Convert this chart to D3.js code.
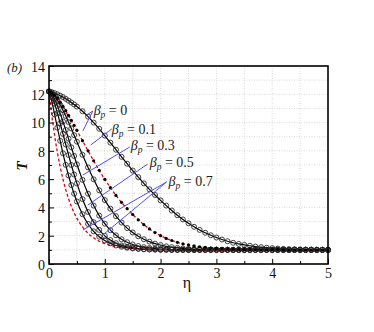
<!DOCTYPE html>
<html><head><meta charset="utf-8">
<script src="https://cdn.jsdelivr.net/npm/d3@7"></script>
<style>body{margin:0;background:#fff}svg{display:block}
svg text{font-family:"Liberation Serif","Times New Roman",serif}</style>
</head><body>
<svg id="chart" width="374" height="332"></svg>
<script>
// ---- data ----
const eta = [0,0.05,0.1,0.15,0.2,0.25,0.3,0.35,0.4,0.45,0.5,
  0.6,0.7,0.8,0.9,1.0,1.1,1.2,1.3,1.4,1.5,1.6,1.7,1.8,1.9,2.0,
  2.1,2.2,2.3,2.4,2.5,2.6,2.7,2.8,2.9,3.0,3.1,3.2,3.3,3.4,3.5,
  3.6,3.7,3.8,3.9,4.0,4.1,4.2,4.3,4.4,4.5,4.6,4.7,4.8,4.9,5.0];

// black lines with open circles
const T_beta0 = [12.2,12.15,12.08,12.0,11.9,11.8,11.68,11.55,11.42,11.28,11.13,
  10.8,10.42,10.0,9.56,9.08,8.58,8.08,7.58,7.09,6.61,6.14,5.70,5.28,4.88,4.50,
  4.13,3.78,3.45,3.15,2.88,2.63,2.41,2.21,2.03,1.87,1.73,1.61,1.50,1.42,1.35,
  1.29,1.23,1.19,1.15,1.12,1.09,1.07,1.05,1.04,1.03,1.02,1.02,1.01,1.01,1.0];
const T_b1 = [12.2,11.49,10.58,9.64,8.71,7.83,7.01,6.26,5.58,4.97,4.42,
  3.52,2.83,2.31,1.93,1.66,1.46,1.31,1.22,1.15,1.10,1.07,1.04,1.03,1.02,1.01,
  1.01,1.0,1.0,1.0,1.0,1.0,1.0,1.0,1.0,1.0,1.0,1.0,1.0,1.0,1.0,
  1.0,1.0,1.0,1.0,1.0,1.0,1.0,1.0,1.0,1.0,1.0,1.0,1.0,1.0,1.0];
const T_b2 = [12.2,11.88,11.34,10.68,9.95,9.20,8.45,7.71,7.00,6.33,5.70,
  4.59,3.68,2.96,2.41,1.99,1.69,1.47,1.31,1.21,1.14,1.09,1.05,1.03,1.02,1.01,
  1.01,1.0,1.0,1.0,1.0,1.0,1.0,1.0,1.0,1.0,1.0,1.0,1.0,1.0,1.0,
  1.0,1.0,1.0,1.0,1.0,1.0,1.0,1.0,1.0,1.0,1.0,1.0,1.0,1.0,1.0];
const T_b3 = [12.2,12.01,11.65,11.18,10.65,10.08,9.48,8.86,8.25,7.64,7.05,
  5.95,4.97,4.13,3.42,2.85,2.39,2.03,1.75,1.54,1.38,1.27,1.19,1.13,1.09,1.06,
  1.04,1.02,1.02,1.01,1.01,1.0,1.0,1.0,1.0,1.0,1.0,1.0,1.0,1.0,1.0,
  1.0,1.0,1.0,1.0,1.0,1.0,1.0,1.0,1.0,1.0,1.0,1.0,1.0,1.0,1.0];
const T_b4 = [12.2,12.09,11.88,11.59,11.26,10.87,10.46,10.03,9.58,9.11,8.65,
  7.72,6.83,5.99,5.21,4.52,3.91,3.38,2.93,2.54,2.23,1.96,1.75,1.58,1.44,1.34,
  1.25,1.19,1.14,1.10,1.07,1.05,1.04,1.03,1.02,1.02,1.01,1.01,1.0,1.0,1.0,
  1.0,1.0,1.0,1.0,1.0,1.0,1.0,1.0,1.0,1.0,1.0,1.0,1.0,1.0,1.0];
// red dashed with black dots
const T_r1 = [12.2,12.10,11.93,11.71,11.44,11.15,10.84,10.51,10.16,9.81,9.45,
  8.72,8.00,7.30,6.62,5.99,5.40,4.85,4.36,3.91,3.50,3.12,2.78,2.48,2.22,2.0,
  1.81,1.66,1.53,1.43,1.35,1.28,1.22,1.17,1.13,1.10,1.08,1.06,1.05,1.04,1.03,
  1.03,1.02,1.02,1.01,1.01,1.0,1.0,1.0,1.0,1.0,1.0,1.0,1.0,1.0,1.0];
// red dashed, no markers
const T_r0 = [12.2,10.53,9.11,7.90,6.88,6.00,5.26,4.62,4.08,3.62,3.23,
  2.62,2.17,1.85,1.61,1.44,1.32,1.23,1.17,1.12,1.09,1.06,1.05,1.03,1.02,1.02,
  1.01,1.01,1.01,1.0,1.0,1.0,1.0,1.0,1.0,1.0,1.0,1.0,1.0,1.0,1.0,
  1.0,1.0,1.0,1.0,1.0,1.0,1.0,1.0,1.0,1.0,1.0,1.0,1.0,1.0,1.0];

const xTicks = [0,1,2,3,4,5];
const yTicks = [0,2,4,6,8,10,12,14];
const betaValues = ["0","0.1","0.3","0.5","0.7"];
// label text start (eta, T) and leader lines (from -> to) in data units
const labelPos = [[0.80,10.51],[1.125,9.19],[1.464,8.06],[1.804,6.86],[2.143,5.55]];
const leaders = [
  [[0.786,10.82],[0.68,10.54]],
  [[0.786,10.82],[0.607,9.41]],
  [[1.125,9.55],[0.75,8.42]],
  [[1.446,8.27],[0.607,6.29]],
  [[1.768,7.07],[0.696,4.17]],
  [[2.107,5.80],[0.607,2.40]],
  [[2.107,5.80],[0.964,2.05]]
];

// ---- drawing ----
const svg = d3.select("#chart");
const x = d3.scaleLinear().domain([0,5]).range([49,328]);
const y = d3.scaleLinear().domain([0,14]).range([264,66]);

// grid
const g = svg.append("g");
g.selectAll("line.gx").data(d3.range(0.5,5,0.5)).join("line")
  .attr("x1",d=>x(d)).attr("x2",d=>x(d)).attr("y1",y(0)).attr("y2",y(14))
  .attr("stroke","#c8c8c8").attr("stroke-width",0.7).attr("stroke-dasharray","1,1.5");
g.selectAll("line.gy").data(d3.range(1,14,1)).join("line")
  .attr("y1",d=>y(d)).attr("y2",d=>y(d)).attr("x1",x(0)).attr("x2",x(5))
  .attr("stroke","#c8c8c8").attr("stroke-width",0.7).attr("stroke-dasharray","1,1.5");

const line = d3.line().x((d,i)=>x(eta[i])).y(d=>y(d)).curve(d3.curveMonotoneX);

const blackSeries = [T_beta0,T_b1,T_b2,T_b3,T_b4];
blackSeries.forEach(s=>{
  svg.append("path").attr("d",line(s)).attr("fill","none")
    .attr("stroke","#000").attr("stroke-width",1.2);
});
// red dashed
[T_r0,T_r1].forEach(s=>{
  svg.append("path").attr("d",line(s)).attr("fill","none")
    .attr("stroke","#e8000b").attr("stroke-width",1.3).attr("stroke-dasharray","3,2.2");
});
// open circles
blackSeries.forEach(s=>{
  svg.append("g").selectAll("circle").data(s).join("circle")
    .attr("cx",(d,i)=>x(eta[i])).attr("cy",d=>y(d)).attr("r",2.5)
    .attr("fill","none").attr("stroke","#222").attr("stroke-width",0.85);
});
// black dots on red curve
svg.append("g").selectAll("circle").data(T_r1).join("circle")
  .attr("cx",(d,i)=>x(eta[i])).attr("cy",d=>y(d)).attr("r",1.6).attr("fill","#000");

// leaders
svg.append("g").selectAll("line").data(leaders).join("line")
  .attr("x1",d=>x(d[0][0])).attr("y1",d=>y(d[0][1]))
  .attr("x2",d=>x(d[1][0])).attr("y2",d=>y(d[1][1]))
  .attr("stroke","#4d4dff").attr("stroke-width",1);

// labels
betaValues.forEach((v,i)=>{
  const t = svg.append("text").attr("x",x(labelPos[i][0])).attr("y",y(labelPos[i][1]))
    .attr("font-size",14).attr("fill","#222");
  t.append("tspan").attr("font-style","italic").text("β");
  t.append("tspan").attr("font-style","italic").attr("font-size",9.5).attr("dy",3).text("p");
  t.append("tspan").attr("dy",-3).text(" = "+v);
});

// axes
const ax = svg.append("g").attr("transform",`translate(0,${y(0)})`)
  .call(d3.axisBottom(x).tickValues(xTicks).tickSizeInner(-5).tickSizeOuter(0).tickPadding(4).tickFormat(d3.format("d")));
const axm = svg.append("g").attr("transform",`translate(0,${y(0)})`)
  .call(d3.axisBottom(x).tickValues(d3.range(0.5,5,1)).tickSizeInner(-3).tickSizeOuter(0).tickFormat(""));
const ay = svg.append("g").attr("transform",`translate(${x(0)},0)`)
  .call(d3.axisLeft(y).tickValues(yTicks).tickSizeInner(-5).tickSizeOuter(0).tickPadding(4).tickFormat(d3.format("d")));
const aym = svg.append("g").attr("transform",`translate(${x(0)},0)`)
  .call(d3.axisLeft(y).tickValues(d3.range(1,14,2)).tickSizeInner(-3).tickSizeOuter(0).tickFormat(""));
[ax,axm,ay,aym].forEach(a=>{
  a.attr("font-family",null);
  a.select(".domain").remove();
  a.selectAll("line").attr("stroke","#000").attr("stroke-width",1);
  a.selectAll("text").attr("font-size",14).attr("fill","#111");
});
ay.selectAll("text").attr("dy","0.38em");

// frame
svg.append("rect").attr("x",x(0)).attr("y",y(14)).attr("width",x(5)-x(0)).attr("height",y(0)-y(14))
  .attr("fill","none").attr("stroke","#000").attr("stroke-width",1.6);

// titles
svg.append("text").attr("x",7).attr("y",72).attr("font-size",13)
  .attr("font-style","italic").attr("fill","#222").text("(b)");
svg.append("text").attr("transform","translate(27,166) rotate(-90)").attr("text-anchor","middle")
  .attr("font-size",15).attr("font-weight","bold").attr("font-style","italic")
  .attr("fill","#111").text("T");
svg.append("text").attr("x",187).attr("y",288).attr("text-anchor","middle")
  .attr("font-size",16).attr("fill","#111").text("η");
</script>
</body></html>
